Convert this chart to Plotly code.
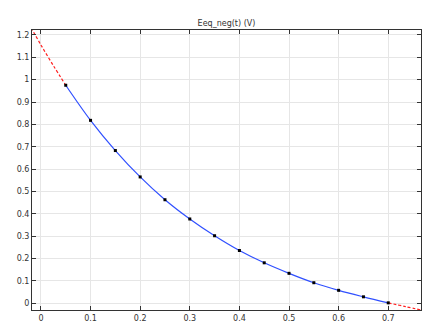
import plotly.graph_objects as go

# Data
t_data = [0.05, 0.1, 0.15, 0.2, 0.25, 0.3, 0.35, 0.4, 0.45, 0.5, 0.55, 0.6, 0.65, 0.7]
eeq_data = [0.975, 0.818, 0.683, 0.565, 0.463, 0.377, 0.302, 0.236, 0.181, 0.134, 0.092, 0.058, 0.029, 0.002]
t_extrap_left = [-0.02, 0.0, 0.025, 0.05]
eeq_extrap_left = [1.233, 1.155, 1.063, 0.975]
t_extrap_right = [0.7, 0.735, 0.77]
eeq_extrap_right = [0.002, -0.015, -0.032]
x_ticks = [0, 0.1, 0.2, 0.3, 0.4, 0.5, 0.6, 0.7]
x_tick_labels = ["0", "0.1", "0.2", "0.3", "0.4", "0.5", "0.6", "0.7"]
y_ticks = [0, 0.1, 0.2, 0.3, 0.4, 0.5, 0.6, 0.7, 0.8, 0.9, 1.0, 1.1, 1.2]
y_tick_labels = ["0", "0.1", "0.2", "0.3", "0.4", "0.5", "0.6", "0.7", "0.8", "0.9", "1", "1.1", "1.2"]

fig = go.Figure()
fig.add_trace(go.Scatter(x=t_extrap_left, y=eeq_extrap_left, mode="lines",
                         line=dict(color="#ff2020", width=1.2, dash="3px,2px", shape="spline")))
fig.add_trace(go.Scatter(x=t_extrap_right, y=eeq_extrap_right, mode="lines",
                         line=dict(color="#ff2020", width=1.2, dash="3px,2px", shape="spline")))
fig.add_trace(go.Scatter(x=t_data, y=eeq_data, mode="lines",
                         line=dict(color="#3050ff", width=1.2, shape="spline")))
fig.add_trace(go.Scatter(x=t_data, y=eeq_data, mode="markers",
                         marker=dict(color="black", size=3, symbol="square")))

axis_common = dict(showline=True, linecolor="#333333", linewidth=1, mirror="ticks",
                   ticks="inside", ticklen=4, tickcolor="#333333", tickwidth=1,
                   showgrid=True, gridcolor="#e6e6e6", gridwidth=1, zeroline=False,
                   tickfont=dict(family="DejaVu Sans", size=8, color="#333333"))

fig.update_layout(
    width=426, height=327,
    margin=dict(l=32, r=4, t=30, b=14),
    paper_bgcolor="white", plot_bgcolor="white",
    showlegend=False,
    title=dict(text="Eeq_neg(t) (V)", x=0.5, xref="paper", y=1 - 23 / 327, yanchor="middle",
               font=dict(family="DejaVu Sans", size=8, color="#333333")),
    xaxis=dict(range=[-0.018, 0.766], tickvals=x_ticks, ticktext=x_tick_labels, **axis_common),
    yaxis=dict(range=[-0.03, 1.222], tickvals=y_ticks, ticktext=y_tick_labels, **axis_common),
)

fig.write_html("out.html")
